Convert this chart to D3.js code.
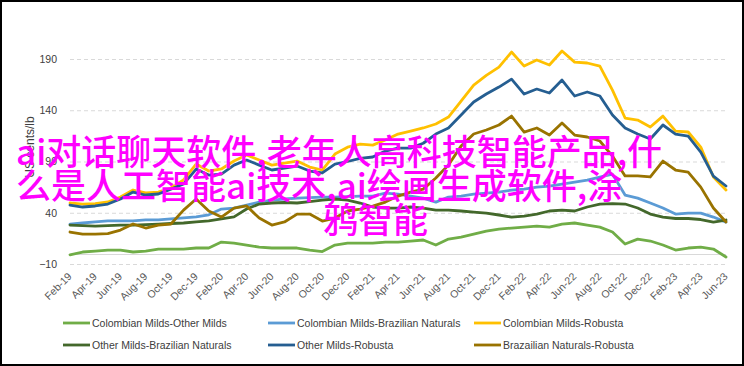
<!DOCTYPE html>
<html>
<head>
<meta charset="utf-8">
<script src="https://cdn.jsdelivr.net/npm/d3@7/dist/d3.min.js"></script>
<style>
  html, body { margin: 0; padding: 0; background: #fff; }
  svg { display: block; }
  .tick text { font-family: "Liberation Sans", Arial, sans-serif; }
</style>
</head>
<body>
<svg id="chart" width="744" height="366"></svg>
<script>
var width = 744, height = 366;

// categories
var months = ["Feb-19","Mar-19","Apr-19","May-19","Jun-19","Jul-19","Aug-19","Sep-19","Oct-19","Nov-19","Dec-19",
  "Jan-20","Feb-20","Mar-20","Apr-20","May-20","Jun-20","Jul-20","Aug-20","Sep-20","Oct-20","Nov-20","Dec-20",
  "Jan-21","Feb-21","Mar-21","Apr-21","May-21","Jun-21","Jul-21","Aug-21","Sep-21","Oct-21","Nov-21","Dec-21",
  "Jan-22","Feb-22","Mar-22","Apr-22","May-22","Jun-22","Jul-22","Aug-22","Sep-22","Oct-22","Nov-22","Dec-22",
  "Jan-23","Feb-23","Mar-23","Apr-23","May-23","Jun-23"];

var yTicks = [-10, 40, 90, 140, 190];

// series values, US cents/lb
var colOther = [-1.0, 1.7, 2.6, 3.6, 3.6, 1.7, 2.6, 4.6, 4.6, 4.6, 5.6, 5.6, 11.4, 10.4, 8.5, 6.5, 5.6, 5.6, 5.6, 3.6, 2.1,
  8.5, 10.4, 10.4, 10.4, 11.4, 11.4, 12.4, 13.4, 8.5, 14.3, 16.3, 19.2, 22.1, 24.1, 25.1, 26, 27, 26, 29, 30, 28, 26,
  21.2, 9.5, 14.3, 12.4, 8.5, 3.6, 5.6, 6.5, 4.6, -3.2];
var colBraz = [29, 30, 31, 32, 32, 32, 33, 33, 34, 35, 36, 38, 43.6, 44.6, 47.5, 50.4, 52.4, 53.4, 54.3, 54.8, 55.3,
  55.3, 55.8, 56.3, 56.3, 59.2, 58.2, 56.3, 54.3, 50.4, 55.3, 56.3, 58.2, 59.2, 60.2, 62.1, 63.1, 65, 66, 67.9, 69.9,
  71.9, 74.8, 77.7, 57.3, 54.3, 49.5, 44.6, 38.7, 39.7, 39.7, 35.8, 30.9];
var colRob = [49.5, 48.5, 49, 50.5, 55.3, 62.2, 59.3, 60.2, 64.1, 72, 87.5, 80.7, 82.7, 90.5, 96.3, 91.4, 86.5, 88.5,
  90.4, 84.6, 81.7, 97.3, 104, 107, 106, 111, 116.8, 119.7, 122.7, 126.6, 133.4, 149, 164.6, 174, 182, 196.8, 183.1,
  189, 184.1, 197.8, 187, 186.1, 183.1, 159.7, 132.4, 130.4, 123.6, 134.3, 119.7, 118.8, 104.1, 74.8, 62.2];
var otherBraz = [28, 27.5, 27, 27.5, 28, 28, 28.5, 29, 29.5, 30, 31, 32, 34, 36, 43.6, 48.5, 49.5, 50, 49.5, 50.9,
  52.4, 53.4, 52.4, 49.5, 45.6, 44.6, 44.6, 45.6, 44.6, 42.6, 42.6, 41.7, 40.7, 39.7, 37.8, 35.8, 36.8, 38.7, 41.7,
  42.6, 41.7, 45.6, 48.5, 49, 48.5, 44.6, 38.7, 35.8, 34.4, 34.4, 33.4, 30.9, 32.9];
var otherRob = [47.5, 45.6, 46.6, 48.5, 53.4, 60.2, 57.3, 58.3, 63.1, 68, 82.6, 76.8, 77.7, 86.5, 91.4, 86.5, 81.7,
  83.6, 85.6, 80.7, 78.8, 87.5, 90, 93, 94.4, 100.2, 103.1, 103.1, 107.8, 116.8, 122.7, 135.3, 148, 155.8, 162.6,
  170.4, 155.8, 160.7, 156.8, 169.5, 153.9, 157.8, 153.9, 135.3, 122.7, 116.8, 111.9, 125.6, 116.8, 114.8, 99.2,
  75.8, 66.1];
var brazRob = [21.2, 19.2, 19.2, 19.7, 23.1, 29, 25.1, 28, 29, 42.6, 53.4, 41.7, 35.8, 44.6, 46.6, 34.8, 28, 31,
  38.7, 38.7, 31.9, 34.8, 41.7, 43.6, 46.5, 50.4, 56.3, 60.2, 63.1, 73.9, 86.5, 105, 116.8, 120.7, 125.6, 134.3,
  118.7, 122.7, 115.8, 127.5, 115.8, 113.9, 110, 95.3, 75.9, 75.9, 74.9, 90.4, 81.7, 79.7, 65, 44.6, 31];

var seriesNames = ["Colombian Milds-Other Milds", "Colombian Milds-Brazilian Naturals", "Colombian Milds-Robusta",
  "Other Milds-Brazilian Naturals", "Other Milds-Robusta", "Brazailian Naturals-Robusta"];
var seriesValues = [colOther, colBraz, colRob, otherBraz, otherRob, brazRob];
var seriesColors = ["#70ad47", "#5b9bd5", "#ffc000", "#43682b", "#255e91", "#997300"];

var overlayLines = ["ai对话聊天软件,老年人高科技智能产品,什", "么是人工智能ai技术,ai绘画生成软件,涂", "鸦智能"];

var svg = d3.select("#chart");
var font = '"Liberation Sans", Arial, sans-serif';

svg.append("rect").attr("width", width).attr("height", height).attr("fill", "#fff");

var plotL = 70, plotR = 726, plotT = 59, plotB = 264;

var x = d3.scalePoint().domain(months).range([plotL, plotR]);
var y = d3.scaleLinear().domain([-10, 190]).range([plotB, plotT]);

// y axis + dashed grid
var yAxis = svg.append("g")
  .attr("transform", "translate(" + plotL + ",0)")
  .call(d3.axisLeft(y).tickValues(yTicks).tickSizeInner(-(plotR - plotL)).tickSizeOuter(0).tickPadding(13));
yAxis.select(".domain").remove();
yAxis.selectAll(".tick line")
  .attr("stroke", "#d9d9d9").attr("stroke-width", 1).attr("stroke-dasharray", "4,3");
yAxis.selectAll(".tick text")
  .attr("fill", "#404040").style("font-size", "10.5px");

// zero line
svg.append("line")
  .attr("x1", plotL).attr("x2", plotR)
  .attr("y1", Math.round(y(0)) + 0.5).attr("y2", Math.round(y(0)) + 0.5)
  .attr("stroke", "#d9d9d9").attr("stroke-width", 1);

// x axis labels
var xAxis = svg.append("g")
  .attr("transform", "translate(0," + plotB + ")")
  .call(d3.axisBottom(x).tickValues(months.filter(function(d, i) { return i % 2 === 0; })).tickSize(0));
xAxis.select(".domain").remove();
xAxis.selectAll(".tick text")
  .attr("fill", "#595959").style("font-size", "10.5px")
  .attr("text-anchor", "end")
  .attr("y", 0).attr("dy", 0)
  .attr("transform", "translate(2,13) rotate(-45)");

// axis title
svg.append("text")
  .attr("transform", "translate(34,147) rotate(-90)")
  .attr("text-anchor", "middle")
  .attr("font-family", font).attr("font-size", "12px").attr("fill", "#404040")
  .text("US cents/lb");

// lines
var line = d3.line()
  .x(function(d, i) { return x(months[i]); })
  .y(function(d) { return y(d); });

seriesValues.forEach(function(vals, k) {
  svg.append("path")
    .datum(vals)
    .attr("d", line)
    .attr("fill", "none")
    .attr("stroke", seriesColors[k])
    .attr("stroke-width", 2.8)
    .attr("stroke-linejoin", "round")
    .attr("stroke-linecap", "round");
});

// legend
var legCols = [63, 268, 474], legRows = [323, 345];
seriesNames.forEach(function(name, k) {
  var lx = legCols[k % 3], ly = legRows[Math.floor(k / 3)];
  var g = svg.append("g").attr("transform", "translate(" + lx + "," + ly + ")");
  g.append("line").attr("x1", 0).attr("x2", 27).attr("y1", 0).attr("y2", 0)
    .attr("stroke", seriesColors[k]).attr("stroke-width", 2.8);
  g.append("text").attr("x", 29).attr("y", 4)
    .attr("font-family", font).attr("font-size", "10.5px").attr("fill", "#404040")
    .text(name);
});

// overlay text
var overlayX = [16, 16, 323], overlayY = [165, 199, 233];
overlayLines.forEach(function(t, i) {
  svg.append("text")
    .attr("x", overlayX[i]).attr("y", overlayY[i])
    .attr("font-family", '"Noto Sans CJK SC", sans-serif')
    .attr("font-size", "35px")
    .attr("font-weight", 500)
    .attr("fill", "#ff00ff")
    .text(t);
});

// frame
svg.append("rect")
  .attr("x", 1).attr("y", 1).attr("width", width - 2).attr("height", height - 2)
  .attr("fill", "none").attr("stroke", "#000").attr("stroke-width", 2);
</script>
</body>
</html>
